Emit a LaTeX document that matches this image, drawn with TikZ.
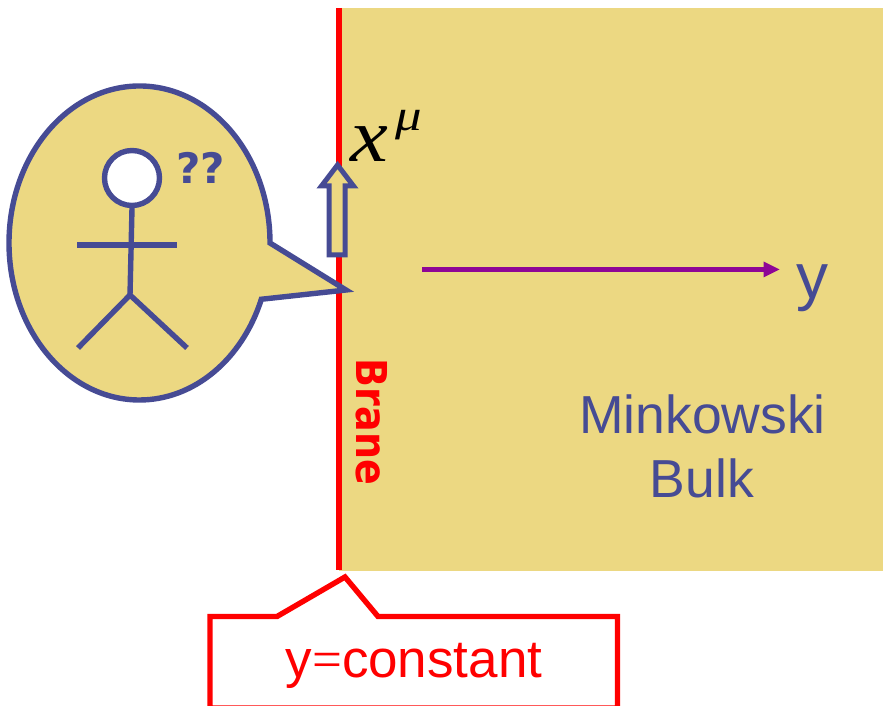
\documentclass[tikz,border=0pt]{standalone}
\usepackage{fontspec}
\setmainfont{Liberation Sans}
\newfontfamily\vfont{DejaVu Sans}
\newfontfamily\tfont{Liberation Serif}
\definecolor{sand}{RGB}{236,216,130}
\definecolor{ink}{RGB}{70,75,148}
\definecolor{vio}{RGB}{142,5,150}
\begin{document}
\begin{tikzpicture}[x=1pt,y=1pt,line join=miter,
  figline/.style={draw=ink,line width=5.4pt},
  lab/.style={inner sep=0pt,anchor=base,text=ink},
  bulklab/.style={lab,font=\fontsize{53.5}{53.5}\selectfont}]
\useasboundingbox (0,0) rectangle (883,706);
\clip (0,0) rectangle (883,706);
% bulk
\fill[sand] (339,135) rectangle (883,698);
\coordinate (braneTop) at (339,698);
\coordinate (braneBot) at (339,136);
\draw[red,line width=5.4pt] (braneTop) -- (braneBot);
% speech bubble
\draw[figline,fill=sand] (270,463) arc[start angle=0,end angle=339,x radius=130.5,y radius=157] -- (346,416) -- cycle;
% stick figure
\node[circle,draw=ink,line width=5.4pt,fill=white,minimum size=55pt,inner sep=0pt] (head) at (132,528) {};
\coordinate (hip) at (130,411);
\coordinate (armL) at (77,461);
\coordinate (armR) at (177,461);
\coordinate (legL) at (78,358);
\coordinate (legR) at (187,358);
\draw[figline] (head.south) -- (hip);
\draw[figline] (armL) -- (armR);
\draw[figline] (legL) -- (hip) -- (legR);
\node[lab,font=\vfont\bfseries\fontsize{42}{42}\selectfont] (qq) at (200.5,522) {??};
% block arrow
\draw[draw=ink,line width=5pt,fill=sand] (329,451) -- (345,451) -- (345,520) -- (353.5,520) -- (337.5,541) -- (321.5,520) -- (329,520) -- cycle;
% x^mu
\node[inner sep=0pt,anchor=base west,text=black,xscale=1.12,font=\tfont\itshape\fontsize{76}{76}\selectfont] (xvar) at (350,544) {x};
\node[inner sep=0pt,anchor=base west,text=black,xscale=1.2,font=\tfont\itshape\fontsize{44}{44}\selectfont] (mu) at (395,575) {μ};
% y axis
\node[lab,font=\fontsize{64}{64}\selectfont] (ylab) at (812,407) {y};
\coordinate (ystart) at (422,436.5);
\coordinate (yend) at (779.5,436.5);
\draw[vio,line width=5pt] (ystart) -- (764,436.5);
\fill[vio] (yend) -- (763.5,444.5) -- (763.5,428.5) -- cycle;
% Brane
\node[rotate=-90,yscale=1.12,inner sep=0pt,text=red,font=\vfont\bfseries\fontsize{38}{38}\selectfont] (brane) at (372,284) {Brane};
% Minkowski Bulk
\node[bulklab] (mink) at (702.5,272) {Minkowski};
\node[bulklab] (bulk) at (702,208) {Bulk};
% callout
\draw[red,line width=5.4pt,fill=white] (210,-2.2) -- (210,89.5) -- (277,89.5) -- (345,129) -- (378,89.5) -- (617.5,89.5) -- (617.5,-2.2) -- cycle;
\node[inner sep=0pt,anchor=base,text=red,font=\fontsize{53}{53}\selectfont] (yc) at (414,28) {y{\tfont=}constant};
\end{tikzpicture}
\end{document}
